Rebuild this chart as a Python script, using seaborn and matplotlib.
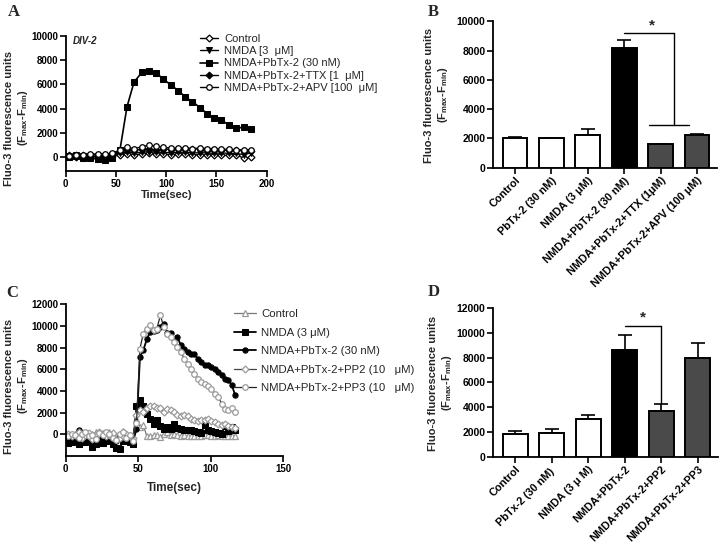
import matplotlib
matplotlib.use("Agg")
import matplotlib.pyplot as plt
import seaborn as sns

sns.set_theme(style="ticks")
plt.rcParams['font.family'] = ['Liberation Sans', 'DejaVu Sans']
plt.rcParams['mathtext.fontset'] = 'custom'
plt.rcParams['mathtext.rm'] = 'Liberation Sans:bold'
plt.rcParams['mathtext.it'] = 'Liberation Sans:bold'
plt.rcParams['mathtext.default'] = 'rm'

# ---------------- data ----------------
# panel A: time course, DIV-2
time_a = [3, 10, 17, 24, 32, 39, 46, 54, 61, 68, 76, 83, 90, 97, 105, 112, 119,
          126, 134, 141, 148, 155, 163, 170, 177, 184]
a_control = [50, 0, 50, 0, 50, 0, 100, 200, 250, 200, 250, 300, 250, 250, 200, 250,
             250, 200, 200, 150, 200, 150, 150, 200, -100, 0]
a_nmda = [100, 150, 100, 100, 50, 100, 200, 350, 400, 350, 400, 450, 400, 400, 350,
          400, 400, 350, 350, 350, 300, 350, 300, 300, 200, 350]
a_pbtx = [0, 50, -50, -100, -150, -200, -100, 600, 4150, 6180, 7000, 7090, 6950, 6430,
          5930, 5470, 4970, 4560, 4070, 3540, 3240, 3020, 2640, 2390, 2450, 2280]
a_ttx = [150, 200, 200, 200, 200, 150, 250, 500, 600, 550, 650, 650, 600, 650, 650,
         700, 700, 700, 650, 600, 600, 550, 550, 600, 500, 500]
a_apv = [100, 150, 200, 250, 250, 250, 300, 600, 800, 700, 850, 1000, 900, 800, 750,
         750, 750, 700, 750, 700, 700, 650, 650, 600, 600, 600]

# panel B: bars
b_labels = ["Control", "PbTx-2 (30 nM)", "NMDA (3 μM)", "NMDA+PbTx-2 (30 nM)",
            "NMDA+PbTx-2+TTX (1μM)", "NMDA+PbTx-2+APV (100 μM)"]
b_means = [2050, 2000, 2250, 8200, 1650, 2250]
b_errs = [50, 30, 400, 550, 0, 80]

# panel C: time course
time_c = [1.9, 4.2, 6.6, 8.9, 11.3, 13.6, 16.0, 18.3, 20.7, 23.0, 25.4, 27.7, 30.1,
          32.4, 34.8, 37.1, 39.5, 41.8, 44.1, 46.5, 48.8, 51.2, 53.5, 55.9, 58.2,
          60.6, 62.9, 65.3, 67.6, 70.0, 72.3, 74.7, 77.0, 79.4, 81.7, 84.1, 86.4,
          88.7, 91.1, 93.4, 95.8, 98.1, 100.5, 102.8, 105.2, 107.5, 109.9, 112.2,
          114.6, 116.9]
c_control = [-100, -300, 0, -200, 100, -100, -300, 0, 200, -100, 100, 0, 200, 100,
             -200, 0, 300, -200, -400, -300,
             1400, 700, 850, -180, -180, -100, -100, -250, 50, 200, -100, 50, -100,
             -200, -50, -200, -200, -200, -150, -200, -100, -50, -200, -200, -100,
             -200, -150, -200, -150, -150]
c_nmda = [-800, -700, -400, -900, -300, -700, -500, -1200, -900, -300, -800, -600,
          -500, -900, -1300, -1400, -600, -400, -700, -900,
          2580, 3140, 2580, 1900, 1450, 920, 1290, 740, 520, 680, 520, 920, 580, 520,
          430, 370, 430, 310, 215, 120, 830, 370, 310, 215, 120, 60, 740, 310, 680, 370]
c_pbtx = [-300, -500, -200, 400, -600, -200, -400, -800, -300, 0, -200, -400, -100,
          -300, -600, -200, -500, -300, -500, -700,
          500, 7140, 7750, 8740, 9450, 9540, 9600, 9900, 10200, 9350, 9300, 8830, 8980,
          8200, 7900, 7600, 7440, 7380, 6980, 6680, 6370, 6370, 6200, 6060, 5750, 5450,
          5140, 4980, 4520, 3600]
c_pp2 = [0, -200, -100, 200, -300, -100, 100, -400, -200, 200, 0, -200, -100, 100,
         -400, -300, -200, 0, -200, -300,
         1750, 2200, 2060, 2460, 2580, 2580, 2460, 2460, 2060, 2370, 2220, 2060, 1750,
         1660, 1750, 1660, 1450, 1350, 1230, 1290, 1350, 1450, 1230, 1140, 980, 830,
         920, 740, 680, 620]
c_pp3 = [-200, 0, -100, -300, 0, 200, -200, -100, -400, 100, -100, 200, 0, -300, -500,
         0, 200, -300, -100, -600,
         1000, 7900, 9290, 9750, 10060, 9600, 9750, 10980, 9900, 9290, 8980, 8520,
         8060, 7600, 6980, 6520, 6060, 5600, 5140, 4830, 4680, 4430, 4220, 3750,
         3450, 2830, 2370, 2280, 2460, 2060]

# panel D: bars
d_labels = ["Control", "PbTx-2 (30 nM) ", "NMDA (3 μ M)", "NMDA+PbTx-2",
            "NMDA+PbTx-2+PP2", "NMDA+PbTx-2+PP3"]
d_means = [1800, 1900, 3050, 8600, 3700, 8000]
d_errs = [250, 300, 300, 1250, 550, 1200]

bar_colors = ["white", "white", "white", "black", "#4a4a4a", "#4a4a4a"]

ylab = 'Fluo-3 fluorescence units\n(F$_{max}$-F$_{min}$)'

fig = plt.figure(figsize=(7.2, 5.5), dpi=100)


def style_axes(ax, fs):
    sns.despine(ax=ax)
    for s in ['left', 'bottom']:
        ax.spines[s].set_linewidth(1.3)
        ax.spines[s].set_color('black')
    ax.tick_params(direction='out', length=4, width=1.2, labelsize=fs, pad=1.5,
                   colors='black')
    for t in ax.get_xticklabels() + ax.get_yticklabels():
        t.set_fontweight('bold')


def bar_panel(ax, labels, means, errs, fs):
    sns.barplot(x=labels, y=means, hue=labels, palette=dict(zip(labels, bar_colors)),
                order=labels, legend=False, edgecolor='black', linewidth=1.4,
                width=0.68, ax=ax, zorder=3)
    ax.errorbar(range(len(means)), means, yerr=[[0] * len(errs), errs], fmt='none',
                ecolor='black', elinewidth=1.2, capsize=5, capthick=1.2, zorder=2)
    ax.set_xlim(-0.6, 5.55)
    ax.set_ylabel('')
    style_axes(ax, fs)
    ax.set_xticks(range(len(labels)))
    ax.set_xticklabels(labels, rotation=45, ha='right', rotation_mode='anchor',
                       fontsize=7.8, fontweight='bold')


# ---- panel A ----
axA = fig.add_axes([0.0913, 0.689, 0.279, 0.246])
sns.lineplot(x=time_a, y=a_control, ax=axA, color='black', lw=1, marker='D', ms=3.5,
             mfc='white', mec='black', mew=0.9, label='Control')
sns.lineplot(x=time_a, y=a_nmda, ax=axA, color='black', lw=1, marker='v', ms=4,
             mfc='black', mec='black', label='NMDA [3  μM]')
sns.lineplot(x=time_a, y=a_pbtx, ax=axA, color='black', lw=1.2, marker='s', ms=3.8,
             mfc='black', mec='black', label='NMDA+PbTx-2 (30 nM)')
sns.lineplot(x=time_a, y=a_ttx, ax=axA, color='black', lw=1, marker='D', ms=3.5,
             mfc='black', mec='black', label='NMDA+PbTx-2+TTX [1  μM]')
sns.lineplot(x=time_a, y=a_apv, ax=axA, color='black', lw=1, marker='o', ms=4,
             mfc='white', mec='black', mew=0.9, label='NMDA+PbTx-2+APV [100  μM]')
axA.set_xlim(0, 200)
axA.set_ylim(-1150, 10000)
axA.set_xticks([0, 50, 100, 150, 200])
axA.set_yticks([0, 2000, 4000, 6000, 8000, 10000])
axA.set_xlabel('Time(sec)', fontsize=8, fontweight='bold', labelpad=1)
axA.set_ylabel('')
style_axes(axA, 7)
axA.text(7, 9300, 'DIV-2', fontsize=7, fontstyle='italic', fontweight='bold')
axA.legend(loc='upper left', bbox_to_anchor=(200 / 720, 1 - 34 / 550),
           bbox_transform=fig.transFigure, frameon=False, fontsize=8,
           handlelength=1.6, handletextpad=0.6, labelspacing=0.2, borderpad=0,
           borderaxespad=0)

# ---- panel B ----
axB = fig.add_axes([0.685, 0.695, 0.311, 0.266])
bar_panel(axB, b_labels, b_means, b_errs, 7.5)
axB.set_ylim(0, 10000)
axB.set_yticks([0, 2000, 4000, 6000, 8000, 10000])
for t in axB.get_yticklabels():
    t.set_fontweight('bold')
axB.plot([3, 4.36], [9200, 9200], color='black', lw=1)
axB.plot([4.36, 4.36], [9200, 2900], color='black', lw=1)
axB.plot([3.68, 4.77], [2900, 2900], color='black', lw=1)
axB.text(3.76, 9250, '*', ha='center', va='bottom', fontsize=11, fontweight='bold')

# ---- panel C ----
axC = fig.add_axes([0.0913, 0.171, 0.302, 0.276])
grey = '#9a9a9a'
sns.lineplot(x=time_c, y=c_control, ax=axC, color='#777777', lw=0.9, marker='^', ms=4,
             mfc='white', mec=grey, mew=0.9, label='Control')
sns.lineplot(x=time_c, y=c_nmda, ax=axC, color='black', lw=1.3, marker='s', ms=4,
             mfc='black', mec='black', label='NMDA (3 μM)')
sns.lineplot(x=time_c, y=c_pbtx, ax=axC, color='black', lw=1.3, marker='o', ms=3.8,
             mfc='black', mec='black', label='NMDA+PbTx-2 (30 nM)')
sns.lineplot(x=time_c, y=c_pp2, ax=axC, color='#444444', lw=0.9, marker='D', ms=3.5,
             mfc='white', mec=grey, mew=0.9, label='NMDA+PbTx-2+PP2 (10   μM)')
sns.lineplot(x=time_c, y=c_pp3, ax=axC, color='#222222', lw=0.9, marker='o', ms=4,
             mfc='white', mec=grey, mew=0.9, label='NMDA+PbTx-2+PP3 (10   μM)')
axC.set_xlim(0, 150)
axC.set_ylim(-2000, 12000)
axC.set_xticks([0, 50, 100, 150])
axC.set_yticks([0, 2000, 4000, 6000, 8000, 10000, 12000])
axC.set_xlabel('Time(sec)', fontsize=8.5, fontweight='bold', labelpad=6)
axC.set_ylabel('')
style_axes(axC, 7)
axC.legend(loc='upper left', bbox_to_anchor=(234 / 720, 1 - 309 / 550),
           bbox_transform=fig.transFigure, frameon=False, fontsize=8.2,
           handlelength=1.9, handletextpad=0.5, labelspacing=0.75, borderpad=0,
           borderaxespad=0)

# ---- panel D ----
axD = fig.add_axes([0.685, 0.1696, 0.312, 0.270])
bar_panel(axD, d_labels, d_means, d_errs, 7.5)
axD.set_ylim(0, 12000)
axD.set_yticks([0, 2000, 4000, 6000, 8000, 10000, 12000])
for t in axD.get_yticklabels():
    t.set_fontweight('bold')
axD.plot([3, 4], [10570, 10570], color='black', lw=1)
axD.plot([4, 4], [10570, 4330], color='black', lw=1)
axD.text(3.5, 10650, '*', ha='center', va='bottom', fontsize=11, fontweight='bold')

# y labels
for (x, y) in [(17, 118), (437, 95), (17, 386), (441, 383)]:
    fig.text(x / 720, 1 - y / 550, ylab, rotation=90, ha='center', va='center',
             multialignment='center', fontsize=8, fontweight='bold', linespacing=1.2)

# panel letters
for (x, y, s) in [(8, 12, 'A'), (428, 12, 'B'), (6, 293, 'C'), (428, 292, 'D')]:
    fig.text(x / 720, 1 - y / 550, s, family='Liberation Serif', fontweight='bold',
             fontsize=12, va='center', ha='left')

fig.savefig('out.png', dpi=100)
